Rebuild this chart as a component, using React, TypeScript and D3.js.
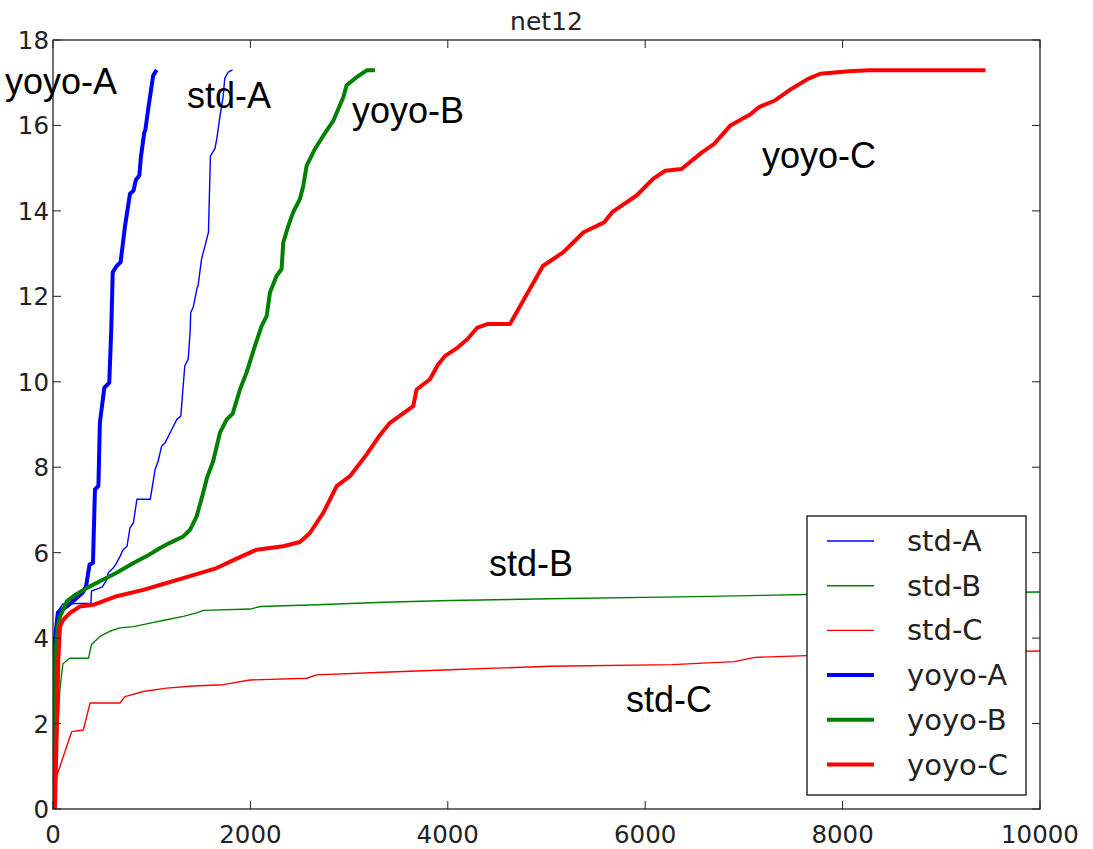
import React, { useEffect, useRef } from 'react';
import * as d3 from 'd3';

type Pt = [number, number];

const xTicks = [0, 2000, 4000, 6000, 8000, 10000];
const yTicks = [0, 2, 4, 6, 8, 10, 12, 14, 16, 18];

const stdA: Pt[] = [
  [0, 0], [15, 4.0], [40, 4.6], [100, 4.8], [385, 4.82], [390, 5.1], [500, 5.2], [545, 5.37],
  [560, 5.53], [610, 5.64], [645, 5.76], [680, 5.92], [710, 6.07], [750, 6.15], [780, 6.58],
  [815, 6.7], [850, 7.25], [985, 7.25], [1035, 7.95], [1065, 8.14], [1100, 8.49], [1135, 8.57],
  [1170, 8.73], [1220, 8.96], [1255, 9.12], [1295, 9.2], [1335, 10.37], [1370, 10.53],
  [1390, 11.2], [1395, 11.62], [1420, 11.74], [1460, 12.2], [1470, 12.25], [1505, 12.87],
  [1540, 13.18], [1575, 13.5], [1595, 15.29], [1640, 15.45], [1660, 15.69], [1690, 16.19],
  [1725, 16.7], [1740, 17.1], [1775, 17.25], [1820, 17.3],
];

const stdB: Pt[] = [
  [0, 0], [20, 0.05], [40, 1.5], [70, 2.8], [100, 3.4], [170, 3.53], [360, 3.53], [390, 3.85],
  [475, 4.04], [575, 4.16], [680, 4.24], [815, 4.27], [985, 4.35], [1150, 4.43], [1320, 4.51],
  [1455, 4.59], [1525, 4.65], [2000, 4.68], [2100, 4.74], [2670, 4.78], [3350, 4.84],
  [4020, 4.88], [5035, 4.92], [6500, 4.97], [7640, 5.02], [10000, 5.08],
];

const stdC: Pt[] = [
  [0, 0], [20, 0.05], [37, 0.76], [104, 1.23], [189, 1.81], [307, 1.85], [375, 2.48],
  [679, 2.48], [729, 2.63], [915, 2.75], [1152, 2.83], [1421, 2.88], [1725, 2.91], [1996, 3.02],
  [2570, 3.06], [2671, 3.14], [3346, 3.2], [4022, 3.26], [5035, 3.34], [6274, 3.38],
  [6903, 3.45], [7113, 3.55], [7637, 3.59], [10000, 3.7],
];

const yoyoA: Pt[] = [
  [0, 0], [20, 4.0], [50, 4.6], [90, 4.67], [140, 4.74], [220, 4.9], [300, 5.06], [335, 5.21],
  [370, 5.72], [405, 5.76], [425, 7.48], [460, 7.56], [475, 9.04], [520, 9.86], [570, 9.98],
  [590, 11.2], [605, 12.56], [645, 12.71], [685, 12.8], [730, 13.65], [780, 14.4], [815, 14.47],
  [840, 14.73], [875, 14.83], [890, 15.25], [925, 15.84], [935, 15.88], [965, 16.39],
  [1015, 17.17], [1050, 17.3],
];

const yoyoB: Pt[] = [
  [0, 0], [20, 3.5], [50, 4.3], [70, 4.5], [105, 4.67], [140, 4.86], [205, 4.98], [340, 5.17],
  [510, 5.37], [645, 5.53], [815, 5.76], [950, 5.92], [1085, 6.11], [1185, 6.23], [1320, 6.38],
  [1390, 6.54], [1455, 6.85], [1510, 7.3], [1560, 7.75], [1624, 8.15], [1692, 8.81],
  [1760, 9.12], [1820, 9.25], [1894, 9.82], [1962, 10.22], [2046, 10.84], [2114, 11.31],
  [2165, 11.54], [2198, 12.09], [2266, 12.48], [2316, 12.64], [2333, 13.26], [2384, 13.65],
  [2434, 13.97], [2502, 14.28], [2536, 14.59], [2570, 15.06], [2654, 15.45], [2738, 15.76],
  [2840, 16.11], [2941, 16.66], [2975, 16.94], [3077, 17.13], [3178, 17.29], [3262, 17.29],
];

const yoyoC: Pt[] = [
  [0, 0], [20, 0.05], [54, 3.49], [71, 4.27], [104, 4.43], [172, 4.59], [274, 4.74],
  [408, 4.78], [645, 4.98], [915, 5.13], [1152, 5.29], [1388, 5.45], [1658, 5.64], [1861, 5.86],
  [2063, 6.07], [2333, 6.15], [2502, 6.25], [2603, 6.46], [2738, 6.93], [2874, 7.56],
  [3009, 7.79], [3178, 8.3], [3312, 8.75], [3414, 9.04], [3650, 9.43], [3684, 9.82],
  [3819, 10.06], [3900, 10.4], [3970, 10.6], [4100, 10.8], [4200, 11.0], [4300, 11.27],
  [4400, 11.35], [4630, 11.35], [4755, 11.86], [4963, 12.71], [5169, 13.03], [5376, 13.5],
  [5583, 13.73], [5665, 13.97], [5913, 14.36], [6079, 14.75], [6203, 14.94], [6368, 14.98],
  [6575, 15.37], [6699, 15.57], [6864, 16.0], [7071, 16.27], [7154, 16.43], [7319, 16.59],
  [7484, 16.86], [7650, 17.09], [7774, 17.21], [8064, 17.27], [8270, 17.29], [9448, 17.29],
];

const series = [
  { name: 'std-A', data: stdA, color: '#0000ff', width: 1.4 },
  { name: 'std-B', data: stdB, color: '#008000', width: 1.4 },
  { name: 'std-C', data: stdC, color: '#ff0000', width: 1.4 },
  { name: 'yoyo-A', data: yoyoA, color: '#0000ff', width: 4 },
  { name: 'yoyo-B', data: yoyoB, color: '#008000', width: 4 },
  { name: 'yoyo-C', data: yoyoC, color: '#ff0000', width: 4 },
];

// in-plot annotations: label, anchor x (px), baseline y (px)
const notes: [string, number, number][] = [
  ['yoyo-A', 5, 94],
  ['std-A', 187, 108],
  ['yoyo-B', 352, 123],
  ['yoyo-C', 762, 168],
  ['std-B', 489, 576],
  ['std-C', 626, 712],
];

const App: React.FC = () => {
  const ref = useRef<SVGSVGElement>(null);

  useEffect(() => {
    if (!ref.current) return;
    const width = 1093;
    const height = 849;
    const left = 53, right = 1040, top = 40, bottom = 809;

    const svg = d3.select(ref.current).attr('width', width).attr('height', height);
    svg.selectAll('*').remove();
    svg.append('rect').attr('width', width).attr('height', height).attr('fill', '#fff');

    const x = d3.scaleLinear().domain([0, 10000]).range([left, right]);
    const y = d3.scaleLinear().domain([0, 18]).range([bottom, top]);

    const line = d3.line<Pt>().x(d => x(d[0])).y(d => y(d[1]));

    svg.append('defs').append('clipPath').attr('id', 'plotclip')
      .append('rect').attr('x', left).attr('y', top)
      .attr('width', right - left).attr('height', bottom - top);

    const plot = svg.append('g').attr('clip-path', 'url(#plotclip)');
    series.forEach(s => {
      plot.append('path')
        .datum(s.data)
        .attr('d', line)
        .attr('fill', 'none')
        .attr('stroke', s.color)
        .attr('stroke-width', s.width)
        .attr('stroke-linejoin', 'round');
    });

    // inward ticks on all sides
    const tickLen = 8;
    const tk = svg.append('g').attr('stroke', '#222').attr('stroke-width', 1);
    xTicks.forEach(t => {
      tk.append('line').attr('x1', x(t)).attr('x2', x(t)).attr('y1', bottom).attr('y2', bottom - tickLen);
      tk.append('line').attr('x1', x(t)).attr('x2', x(t)).attr('y1', top).attr('y2', top + tickLen);
    });
    yTicks.forEach(t => {
      tk.append('line').attr('x1', left).attr('x2', left + tickLen).attr('y1', y(t)).attr('y2', y(t));
      tk.append('line').attr('x1', right).attr('x2', right - tickLen).attr('y1', y(t)).attr('y2', y(t));
    });

    svg.append('rect')
      .attr('x', left).attr('y', top)
      .attr('width', right - left).attr('height', bottom - top)
      .attr('fill', 'none').attr('stroke', '#222').attr('stroke-width', 1.3);

    const tickFont = '"DejaVu Sans", sans-serif';
    svg.append('g').selectAll('text').data(xTicks).join('text')
      .attr('x', d => x(d)).attr('y', bottom + 34)
      .attr('text-anchor', 'middle')
      .attr('font-family', tickFont).attr('font-size', 24.5).attr('fill', '#222')
      .text(d => String(d));

    svg.append('g').selectAll('text').data(yTicks).join('text')
      .attr('x', left - 4).attr('y', d => y(d) + 9)
      .attr('text-anchor', 'end')
      .attr('font-family', tickFont).attr('font-size', 24.5).attr('fill', '#222')
      .text(d => String(d));

    svg.append('text')
      .attr('x', (left + right) / 2).attr('y', 30)
      .attr('text-anchor', 'middle')
      .attr('font-family', tickFont).attr('font-size', 25).attr('fill', '#222')
      .text('net12');

    // legend
    const lg = svg.append('g');
    const lx = 807, ly = 516, lw = 219, lh = 279;
    lg.append('rect').attr('x', lx).attr('y', ly).attr('width', lw).attr('height', lh)
      .attr('fill', '#fff').attr('stroke', '#111').attr('stroke-width', 1.3);
    series.forEach((s, i) => {
      const cy = 541 + i * 44.7;
      lg.append('line').attr('x1', 827).attr('x2', 874).attr('y1', cy).attr('y2', cy)
        .attr('stroke', s.color).attr('stroke-width', s.width);
      lg.append('text').attr('x', 907).attr('y', cy + 10)
        .attr('font-family', tickFont).attr('font-size', 29).attr('fill', '#222')
        .text(s.name);
    });

    svg.append('g').selectAll('text').data(notes).join('text')
      .attr('x', d => d[1]).attr('y', d => d[2])
      .attr('font-family', '"Liberation Sans", Arial, sans-serif')
      .attr('font-size', 36).attr('fill', '#000')
      .text(d => d[0]);
  }, []);

  return <svg ref={ref} style={{ position: 'absolute', left: 0, top: 0 }}></svg>;
};

export default App;
